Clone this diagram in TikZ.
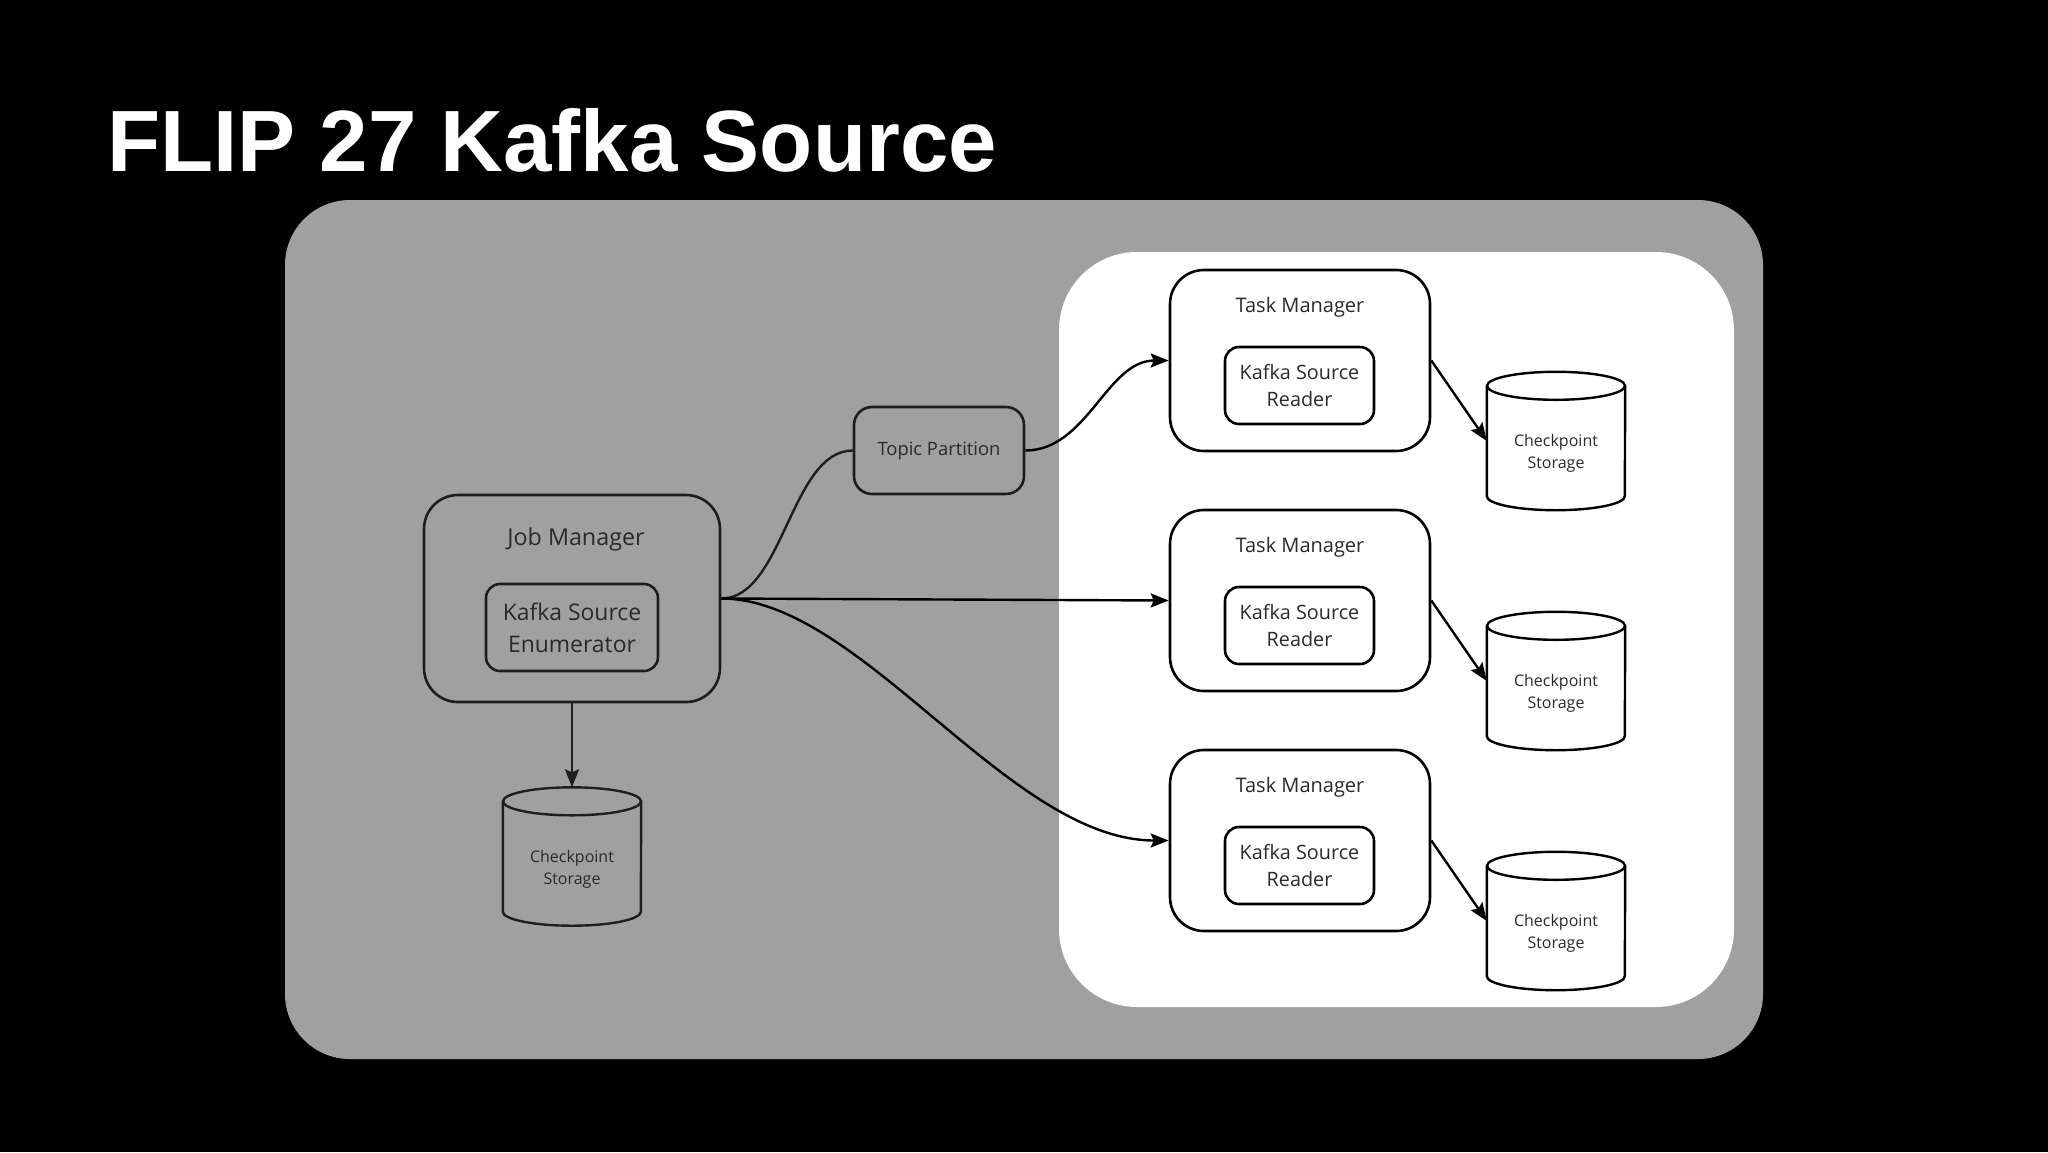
\documentclass[tikz,border=0pt]{standalone}
\usepackage{fontspec}
\setmainfont{Open Sans}
\newfontfamily\titlefam{Liberation Sans}
\usetikzlibrary{arrows.meta}
\definecolor{panelgray}{HTML}{A0A0A0}
\definecolor{txtdark}{HTML}{2A2A2A}
\definecolor{linegray}{HTML}{1E1E1E}
\tikzset{
  box/.style={draw=black, line width=2.6pt, rounded corners=34pt, inner sep=0pt},
  innerbox/.style={draw=black, line width=2.6pt, rounded corners=14pt, inner sep=0pt, align=center, text=txtdark},
  lbl/.style={inner sep=0pt, text=txtdark},
  cylnode/.style={minimum width=138pt, minimum height=138pt, inner sep=0pt, align=center, text=txtdark, font=\fontsize{16}{22}\selectfont},
  cylline/.style={draw=black, line width=2.4pt},
  conn/.style={draw=black, line width=2.4pt},
  arr/.style={conn, -{Stealth[length=18pt, width=14pt, inset=3pt]}},
  ingray/.style={draw=linegray},
}
\newcommand{\cylinderat}[2][]{%
  \draw[cylline,#1] ([yshift=-14pt]#2.north) ellipse [x radius=69pt, y radius=14pt];
  \draw[cylline,#1] ([yshift=-14pt]#2.north west) -- ([yshift=14pt]#2.south west)
     arc[start angle=180, end angle=360, x radius=69pt, y radius=14pt]
     -- ([yshift=-14pt]#2.north east);
}
\begin{document}
\begin{tikzpicture}[x=1pt, y=-1pt]
\useasboundingbox (0,0) rectangle (2048,1152);
\fill[black] (0,0) rectangle (2048,1152);
\node[anchor=base west, inner sep=0pt, text=white, font=\titlefam\bfseries\fontsize{87}{100}\selectfont] (title) at (107,171) {FLIP 27 Kafka Source};
% panels
\fill[panelgray, rounded corners=65pt] (285,200) rectangle (1763,1059);
\fill[white, rounded corners=78pt] (1059,252) rectangle (1734,1007);
% job manager
\node[box, ingray, minimum width=296pt, minimum height=207pt] (jm) at (572,598.5) {};
\node[lbl, font=\fontsize{23.3}{27}\selectfont] (jmlbl) at (576,539) {Job Manager};
\node[innerbox, ingray, minimum width=172pt, minimum height=87pt, font=\fontsize{22.9}{32}\selectfont] (enum) at (572,627.5) {Kafka Source\\Enumerator};
\node[cylnode] (cs0) at (572,856.5) {\\[16pt]Checkpoint\\Storage};
\cylinderat[ingray]{cs0}
% topic partition
\node[box, ingray, rounded corners=18pt, minimum width=170pt, minimum height=87pt, text=txtdark, font=\fontsize{18.4}{22}\selectfont] (tp) at (939,450.5) {Topic Partition};
% task managers
\foreach \i/\y in {1/360.5, 2/600.5, 3/840.5}{
  \node[box, fill=white, minimum width=260pt, minimum height=181pt] (tm\i) at (1300,\y) {};
  \node[lbl, font=\fontsize{20}{24}\selectfont] (tml\i) at (1300,\y-53) {Task Manager};
  \node[innerbox, minimum width=149pt, minimum height=77pt, font=\fontsize{19.8}{27.5}\selectfont] (rd\i) at (1299.5,\y+25) {Kafka Source\\Reader};
  \node[cylnode] (cs\i) at (1556,\y+80.5) {\\[14pt]Checkpoint\\Storage};
  \cylinderat{cs\i}
  \draw[arr] (tm\i.east) -- (cs\i.west);
}
% connectors
\draw[arr, ingray] (jm.south) -- (cs0.north);
\draw[conn, ingray] (jm.east) .. controls +(62,0) and +(-62,0) .. (tp.west);
\draw[arr] (tp.east) .. controls +(62,0) and +(-62,0) .. (tm1.west);
\draw[arr] (jm.east) -- (tm2.west);
\draw[arr] (jm.east) .. controls +(140,0) and +(-160,0) .. (tm3.west);
\end{tikzpicture}
\end{document}
